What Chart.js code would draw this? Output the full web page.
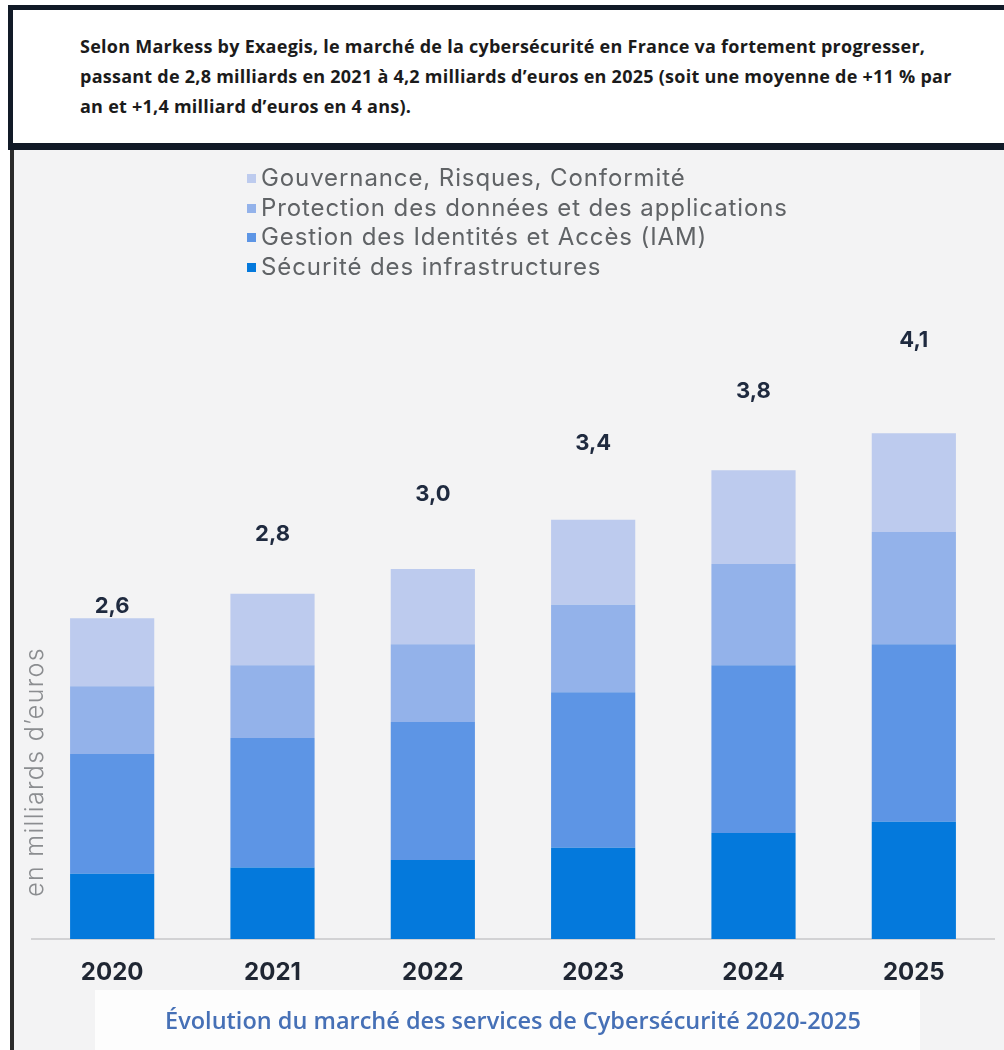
<!DOCTYPE html>
<html>
<head>
<meta charset="utf-8">
<script src="https://cdn.jsdelivr.net/npm/chart.js@4.4.1/dist/chart.umd.min.js"></script>
<style>
  body { margin: 0; background: #fff; width: 1004px; height: 1050px; overflow: hidden; position: relative; }
  #header {
    position: absolute; left: 8px; top: 5px; width: 1010px; height: 145px;
    border: 5px solid #111a27; border-bottom-width: 7px; background: #fff;
    font-family: "Open Sans", sans-serif; font-weight: 700; font-size: 18px; letter-spacing: 0.25px;
    line-height: 30px; color: #1b1b1b; padding: 21px 0 0 67px; box-sizing: border-box;
  }
  #header p { margin: 0; white-space: nowrap; }
  #panel {
    position: absolute; left: 10px; top: 150px; width: 994px; height: 900px;
    border-left: 4px solid #2b2b2b; background: #f3f3f4; box-sizing: border-box;
  }
  #titlebg { position: absolute; left: 95px; top: 990px; width: 825px; height: 60px; background: #fdfdfd; }
  #wrap { position: absolute; left: 14px; top: 150px; width: 990px; height: 900px; }
  #legend { position: absolute; left: 247px; top: 163px; margin: 0; padding: 0; list-style: none;
    font-family: Inter, sans-serif; font-size: 24px; letter-spacing: 0.9px; color: #606366; line-height: 29.7px; }
  #legend li span { display: inline-block; width: 9px; height: 9px; margin-right: 5px; vertical-align: 3px; }
</style>
</head>
<body>
<div id="header"><p>Selon Markess by Exaegis, le marché de la cybersécurité en France va fortement progresser,<br>passant de 2,8 milliards en 2021 à 4,2 milliards d’euros en 2025 (soit une moyenne de +11 % par<br>an et +1,4 milliard d’euros en 4 ans).</p></div>
<div id="panel"></div>
<div id="titlebg"></div>
<div id="wrap"><canvas id="myChart"></canvas></div>
<ul id="legend"></ul>
<script>
'use strict';

const years = ['2020', '2021', '2022', '2023', '2024', '2025'];
const infra = [0.53, 0.58, 0.64, 0.74, 0.86, 0.95];
const iam = [0.97, 1.05, 1.12, 1.26, 1.36, 1.44];
const protection = [0.55, 0.59, 0.63, 0.71, 0.82, 0.91];
const gouvernance = [0.55, 0.58, 0.61, 0.69, 0.76, 0.80];

const seriesNames = ['Sécurité des infrastructures', 'Gestion des Identités et Accès (IAM)',
  'Protection des données et des applications', 'Gouvernance, Risques, Conformité'];
const seriesColors = ['#0479dc', '#5d95e5', '#93b2ea', '#bdcbee'];

// how far above each bar the total sits (px), the source is not regular
const labelGaps = [12, 59, 75, 76, 79, 93];

const totalsPlugin = {
  id: 'totals',
  afterDatasetsDraw(chart) {
    const ctx = chart.ctx;
    const meta = chart.getDatasetMeta(chart.data.datasets.length - 1);
    ctx.save();
    ctx.font = 'bold 22px Inter, sans-serif';
    ctx.fillStyle = '#1f2a3f';
    ctx.textAlign = 'center';
    ctx.textBaseline = 'middle';
    for (let i = 0; i < years.length; i++) {
      let total = 0;
      chart.data.datasets.forEach(ds => { total += ds.data[i]; });
      const bar = meta.data[i];
      ctx.fillText(total.toFixed(1).replace('.', ','), bar.x, bar.y - labelGaps[i]);
    }
    // y axis title
    ctx.translate(21, 622);
    ctx.rotate(-Math.PI / 2);
    ctx.font = '300 25px Inter, sans-serif';
    ctx.letterSpacing = '1.3px';
    ctx.fillStyle = '#8b8d90';
    ctx.fillText('en milliards d\u2019euros', 0, 0);
    ctx.restore();
  }
};

const datasets = [infra, iam, protection, gouvernance].map((d, i) => ({
  label: seriesNames[i],
  data: d,
  backgroundColor: seriesColors[i],
  borderWidth: 0,
  categoryPercentage: 1,
  barPercentage: 0.525
}));

const legend = document.getElementById('legend');
for (let i = seriesNames.length - 1; i >= 0; i--) {
  let item = document.createElement('li');
  item.innerHTML = `<span style="background:${seriesColors[i]}"></span>${seriesNames[i]}`;
  legend.appendChild(item);
}

let ctx = document.getElementById('myChart').getContext('2d');
let myChart = new Chart(ctx, {
  type: 'bar',
  data: { labels: years, datasets: datasets },
  options: {
    responsive: true,
    maintainAspectRatio: false,
    animation: false,
    layout: { padding: { left: 18, right: 10, top: 49, bottom: 0 } },
    plugins: {
      legend: { display: false },
      tooltip: { enabled: false },
      title: {
        display: true,
        position: 'bottom',
        text: 'Évolution du marché des services de Cybersécurité 2020-2025',
        color: '#4670b6',
        font: { family: 'Open Sans', size: 23.5, weight: '600' },
        padding: { top: 10, bottom: 14 }
      }
    },
    scales: {
      x: {
        stacked: true,
        grid: { display: false },
        border: { display: true, color: '#d2d2d4', width: 2 },
        ticks: { color: '#1f2633', font: { family: 'Inter', size: 24, weight: 'bold' }, padding: 11 }
      },
      y: {
        stacked: true,
        display: false,
        min: 0,
        max: 6
      }
    }
  },
  plugins: [totalsPlugin]
});
</script>
</body>
</html>
